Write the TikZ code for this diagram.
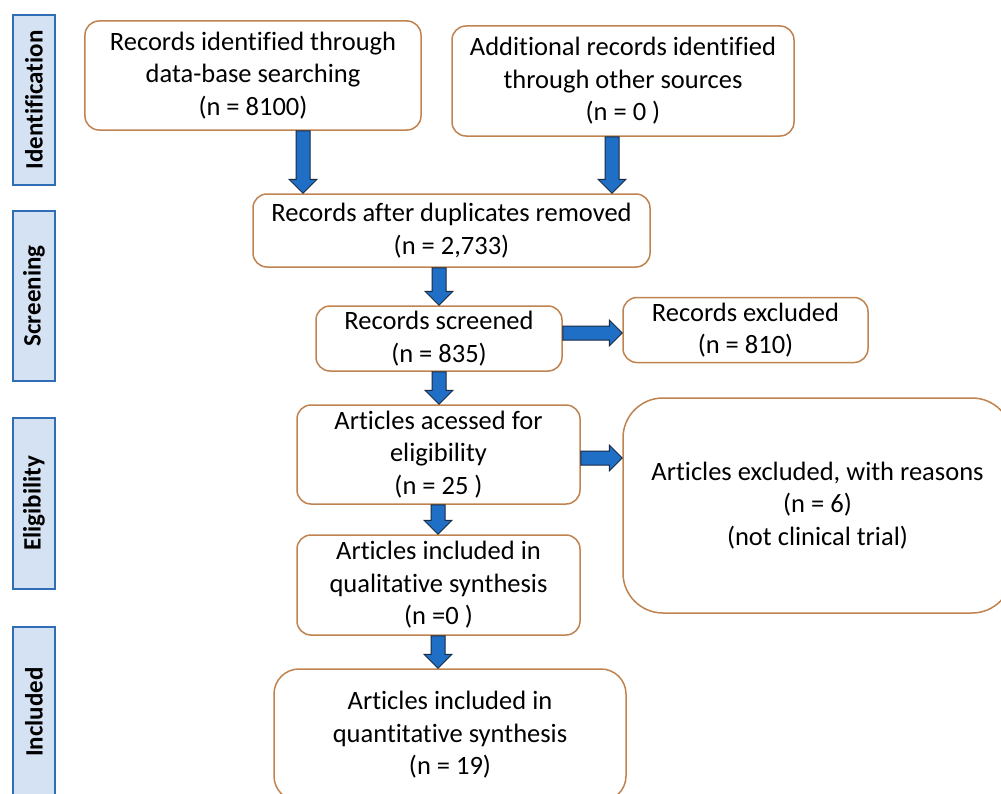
\documentclass[tikz,border=0pt]{standalone}
\usepackage{fontspec}
\setmainfont{Carlito}[Ligatures=NoCommon]
\usetikzlibrary{calc}
\definecolor{boxline}{RGB}{192,131,80}
\definecolor{sidefill}{HTML}{D5E2F3}
\definecolor{sideline}{HTML}{2F6DB5}
\definecolor{arrfill}{HTML}{1F6FC6}
\definecolor{arrline}{HTML}{1B2A40}
\newcommand\vblock[3]{\draw[blk] let \p1=(#1), \p2=(#2), \p3=(#3) in
  (\x3-7bp,\y1) -- (\x3-7bp,\y2+14bp) -- (\x3-14bp,\y2+14bp) -- (\x3,\y2) --
  (\x3+14bp,\y2+14bp) -- (\x3+7bp,\y2+14bp) -- (\x3+7bp,\y1) -- cycle;}
\newcommand\hblock[3]{\draw[blk] let \p1=(#1), \p2=(#2), \p3=(#3) in
  (\x1,\y3+7bp) -- (\x2-13bp,\y3+7bp) -- (\x2-13bp,\y3+13bp) -- (\x2,\y3) --
  (\x2-13bp,\y3-13bp) -- (\x2-13bp,\y3-7bp) -- (\x1,\y3-7bp) -- cycle;}
\begin{document}
\begin{tikzpicture}[x=1bp,y=-1bp,
  box/.style={draw=boxline, line width=1.5bp, rounded corners=14bp, fill=white,
    align=center, inner sep=0pt, font=\fontsize{26.5bp}{32.5bp}\selectfont},
  side/.style={draw=sideline, fill=sidefill, line width=1.5bp, minimum width=42bp,
    inner sep=0pt},
  sidetext/.style={rotate=90, font=\fontsize{25bp}{28bp}\selectfont\bfseries},
  blk/.style={fill=arrfill, draw=arrline, line width=1bp, line join=miter}]
\clip (0,0) rectangle (1001,794);
\fill[white] (0,0) rectangle (1001,794);
% side bars
\node[side, minimum height=170bp] (s1) at (34,100) {};
\node[sidetext] (t1) at (s1.center) {Identification};
\node[side, minimum height=170bp] (s2) at (34,296) {};
\node[sidetext] (t2) at (s2.center) {Screening};
\node[side, minimum height=171bp] (s3) at (34,503.5) {};
\node[sidetext] (t3) at (s3.center) {Eligibility};
\node[side, minimum height=170bp] (s4) at (34,712) {};
\node[sidetext] (t4) at (s4.center) {Included};
% boxes
\node[box, minimum width=336bp, minimum height=109bp] (A) at (253,75.5)
  {Records identified through\\data-base searching\\(n = 8100)};
\node[box, minimum width=342bp, minimum height=110bp] (B) at (623,81)
  {Additional records identified\\through other sources\\(n = 0 )};
\node[box, minimum width=397bp, minimum height=73bp] (C) at (451.5,230.5)
  {Records after duplicates removed\\(n = 2,733)};
\node[box, minimum width=246bp, minimum height=65bp] (D) at (439,338.5)
  {Records screened\\(n = 835)};
\node[box, minimum width=245bp, minimum height=65bp] (E) at (745.5,330)
  {Records excluded\\(n = 810)};
\node[box, minimum width=283bp, minimum height=99bp] (F) at (438.5,454.5)
  {Articles acessed for\\eligibility\\(n = 25 )};
\node[box, minimum width=283bp, minimum height=100bp] (G) at (438.5,585)
  {Articles included in\\qualitative synthesis\\(n =0 )};
\node[box, rounded corners=25bp, minimum width=352bp, minimum height=132bp] (H) at (450,735)
  {Articles included in\\quantitative synthesis\\(n = 19)};
\node[box, rounded corners=40bp, minimum width=389bp, minimum height=215bp] (I) at (817.5,505.5)
  {Articles excluded, with reasons\\(n = 6)\\(not clinical trial)};
% arrow guide coordinates
\coordinate (xa) at (303,0);
\coordinate (xb) at (612,0);
\coordinate (xc) at (439,0);
\coordinate (xf) at (438,0);
\coordinate (yd) at (0,333);
\coordinate (yf) at (0,458);
% block arrows
\vblock{A.south}{C.north}{xa}
\vblock{B.south}{C.north}{xb}
\vblock{C.south}{D.north}{xc}
\vblock{D.south}{F.north}{xc}
\vblock{F.south}{G.north}{xf}
\vblock{G.south}{H.north}{xf}
\hblock{D.east}{E.west}{yd}
\hblock{F.east}{I.west}{yf}
\end{tikzpicture}
\end{document}
